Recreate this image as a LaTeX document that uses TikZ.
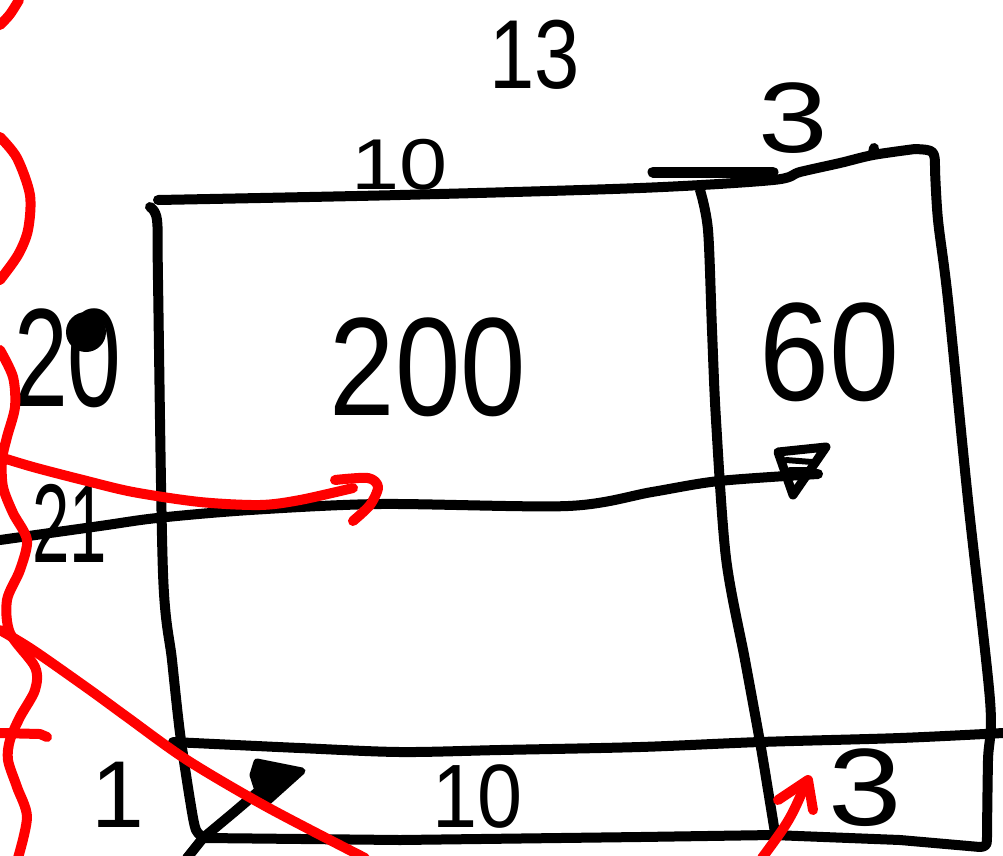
\documentclass[tikz,border=0pt]{standalone}
\usepackage{fontspec}
\usepackage{graphicx}
\setmainfont{Liberation Sans}
\definecolor{penred}{RGB}{255,0,0}
\newcommand{\hs}[3]{\fontsize{#1}{#1}\selectfont\scalebox{#2}[1]{#3}}
\begin{document}
\begin{tikzpicture}[x=1pt,y=-1pt,line cap=round,line join=round,
  ink/.style={line width=10pt,black},
  redink/.style={line width=10pt,penred},
  lbl/.style={inner sep=0pt,anchor=center,black}]
\useasboundingbox (0,0) rectangle (1003,855);
% outer box
\draw[ink] plot[smooth] coordinates {(150,207) (157,220) (158,280) (163,573) (172,660) (180,733) (190,800) (196,830) (205,838)}
  -- (400,840) -- (640,837) -- (773,835) -- (900,840) -- (980,847);
\draw[ink] (980,847) .. controls (987,846) .. (987,833)
  plot[smooth] coordinates {(987,833) (988,760) (990,700) (968,500) (948,300) (938,220) (935,170)};
\draw[ink] (935,170) .. controls (935,150) .. (915,149);
\draw[ink] plot[smooth] coordinates {(915,149) (873,155) (840,163) (800,172) (773,180) (640,188) (400,195) (158,200)};
\draw[line width=11pt] (653,172) -- (773,172);
\draw[ink] (873,153) -- (874,148);
% divider
\draw[ink] plot[smooth] coordinates {(700,190) (708,230) (712,330) (716,420) (726,558) (745,660) (760,742) (768,790) (775,833)};
% bottom strip
\draw[ink] plot[smooth] coordinates {(173,742) (300,748) (400,752) (500,750) (640,747) (760,742) (900,738) (1003,733)};
% black arrow across
\coordinate (aS) at (0,540);
\coordinate (aE) at (818,474);
\draw[ink] plot[smooth] coordinates {(aS) (100,526) (157,518) (250,510) (380,504) (568,506) (652,492) (719,481) (aE)};
\draw[line width=9pt] (778,452) -- (826,447) -- (793,495) -- cycle;
\draw[line width=6pt] (786,460) -- (812,462) (790,470) -- (808,470);
% bottom-left black arrow
\coordinate (bS) at (187,858);
\draw[ink] (bS) -- (203,838) -- (233,813) -- (260,790);
\filldraw[line width=7pt] (257,762) -- (302,771) -- (263,806) -- (253,775) -- cycle;
% labels
\node[lbl] (t13) at (535,55) {\hs{98}{0.83}{13}};
\node[lbl] (t10a) at (400,165) {\hs{72}{1.2}{10}};
\node[lbl] (t3a) at (793,118) {\hs{100}{1.25}{3}};
\node[lbl] (t20) at (68,358) {\hs{140}{0.69}{20}};
\fill (86,332) circle (20);
\node[lbl] (t200) at (428,367) {\hs{140}{0.84}{200}};
\node[lbl] (t60) at (830,352) {\hs{140}{0.9}{60}};
\node[lbl] (t21) at (70,523) {\hs{112}{0.6}{21}};
\node[lbl] (t1) at (118,795) {\hs{95}{1}{1}};
\node[lbl] (t10b) at (478,797) {\hs{90}{0.9}{10}};
\node[lbl] (t3b) at (865,788) {\hs{110}{1.2}{3}};
% red strokes
\draw[redink] (0,25) .. controls (10,15) .. (19,0);
\draw[redink] plot[smooth] coordinates {(0,137) (17,158) (30,195) (28,230) (18,255) (0,280)};
\draw[redink] plot[smooth] coordinates {(0,350) (13,377) (15,407) (7,437) (2,460) (3,487) (13,513) (27,540) (20,570) (7,600) (10,633) (35,667) (35,690) (20,717) (10,740) (8,760) (17,787) (27,817) (18,858)};
\draw[redink] plot[smooth] coordinates {(0,457) (33,467) (83,480) (133,492) (200,502) (260,505) (300,500) (353,488)};
\draw[redink] plot[smooth] coordinates {(335,480) (368,478) (378,487) (370,505) (353,521)};
\draw[redink] plot[smooth] coordinates {(0,630) (33,650) (90,690) (127,717) (187,760) (267,807) (365,858)};
\draw[redink] (0,733) -- (40,734) -- (47,737);
\draw[redink] (762,858) .. controls (790,820) .. (807,781);
\draw[redink] (778,800) -- (808,780) -- (813,810);
\end{tikzpicture}
\end{document}
